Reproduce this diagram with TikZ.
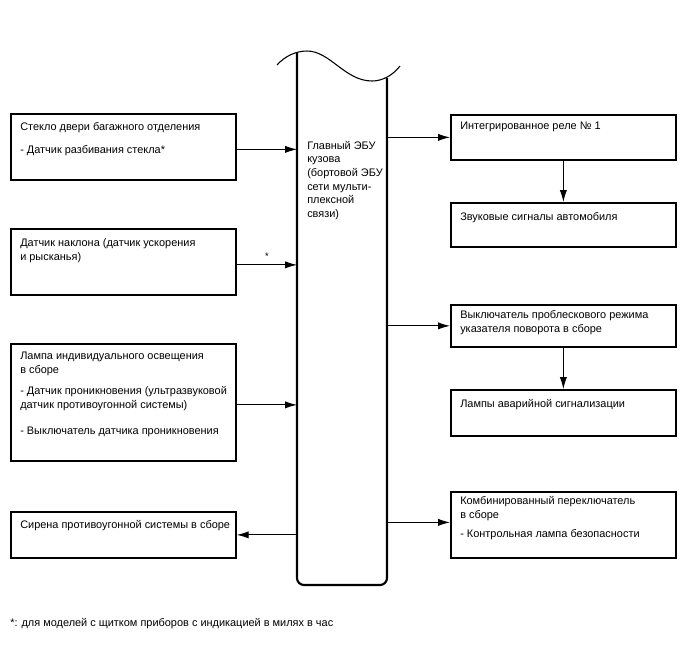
\documentclass[tikz,border=0pt]{standalone}
\usepackage{fontspec}
\setmainfont{Liberation Sans}
\usetikzlibrary{arrows.meta,calc}
\begin{document}
\begin{tikzpicture}[x=0.75pt,y=-0.75pt,
  box/.style={draw,line width=1.3pt,rectangle,inner sep=0pt},
  txt/.style={anchor=north west,inner sep=0pt,align=left,font=\fontsize{8.2}{10.5}\selectfont},
  arr/.style={line width=0.8pt,-{Latex[length=9pt,width=5.5pt]}}]
\useasboundingbox (0,0) rectangle (688,658);
% left boxes
\node[box,minimum width=225*0.75pt,minimum height=66*0.75pt,anchor=north west] (l1) at (10,113) {};
\node[txt] (l1t) at (20,122) {Стекло двери багажного отделения\\[7pt]- Датчик разбивания стекла*};
\node[box,minimum width=225*0.75pt,minimum height=66*0.75pt,anchor=north west] (l2) at (10,228) {};
\node[txt] (l2t) at (20,238) {Датчик наклона (датчик ускорения\\и рысканья)};
\node[box,minimum width=225*0.75pt,minimum height=117*0.75pt,anchor=north west] (l3) at (10,343) {};
\node[txt] (l3t) at (20,352) {Лампа индивидуального освещения\\в сборе\\[5pt]- Датчик проникновения (ультразвуковой\\датчик противоугонной системы)\\[9pt]- Выключатель датчика проникновения};
\node[box,minimum width=225*0.75pt,minimum height=46*0.75pt,anchor=north west] (l4) at (10,511) {};
\node[txt] (l4t) at (20,520) {Сирена противоугонной системы в сборе};
% right boxes
\node[box,minimum width=225*0.75pt,minimum height=45*0.75pt,anchor=north west] (r1) at (450,114) {};
\node[txt] (r1t) at (460,122) {Интегрированное реле № 1};
\node[box,minimum width=225*0.75pt,minimum height=44*0.75pt,anchor=north west] (r2) at (450,202) {};
\node[txt] (r2t) at (460,212) {Звуковые сигналы автомобиля};
\node[box,minimum width=225*0.75pt,minimum height=42*0.75pt,anchor=north west] (r3) at (450,304) {};
\node[txt] (r3t) at (460,310) {Выключатель проблескового режима\\указателя поворота в сборе};
\node[box,minimum width=225*0.75pt,minimum height=46*0.75pt,anchor=north west] (r4) at (450,389) {};
\node[txt] (r4t) at (460,399) {Лампы аварийной сигнализации};
\node[box,minimum width=225*0.75pt,minimum height=66*0.75pt,anchor=north west] (r5) at (450,491) {};
\node[txt] (r5t) at (460,496) {Комбинированный переключатель\\в сборе\\[4pt]- Контрольная лампа безопасности};
% ECU
\node[inner sep=0pt,minimum width=90*0.75pt,minimum height=533*0.75pt,anchor=north west] (ecu) at (297,52) {};
\draw[line width=1.6pt] (297,52) -- (297,578) arc[start angle=180,end angle=270,radius=7*0.75pt] -- (380,585) arc[start angle=270,end angle=360,radius=7*0.75pt] -- (387,78);
\draw[line width=0.8pt] (277,65) .. controls (285,56) and (296,51) .. (307,51) .. controls (330,51) and (345,81) .. (372,81) .. controls (383,81) and (393,75) .. (400,66);
\node[txt,font=\fontsize{8.2}{10.2}\selectfont] (ecut) at (307,141) {Главный ЭБУ\\кузова\\(бортовой ЭБУ\\сети мульти-\\плексной\\связи)};
% connectors
\draw[arr] ([yshift=-2.5*0.75pt]l1.east) -- ([yshift=-2.5*0.75pt]l1.east -| ecu.west);
\draw[arr] ([yshift=-3*0.75pt]l2.east) -- ([yshift=-3*0.75pt]l2.east -| ecu.west) node[midway,above=0pt,font=\fontsize{7}{8}\selectfont] (st) {*};
\draw[arr] ([yshift=-2.5*0.75pt]l3.east) -- ([yshift=-2.5*0.75pt]l3.east -| ecu.west);
\draw[arr] (l4.east -| ecu.west) -- (l4.east);
\draw[arr] (r1.west -| ecu.east) -- (r1.west);
\draw[arr] (r3.west -| ecu.east) -- (r3.west);
\draw[arr] ([yshift=2.5*0.75pt]r5.west -| ecu.east) -- ([yshift=2.5*0.75pt]r5.west);
\draw[arr] (r1.south) -- (r2.north);
\draw[arr] (r3.south) -- (r4.north);
% footnote
\node[txt] (fn) at (10,618) {*: для моделей с щитком приборов с индикацией в милях в час};
\end{tikzpicture}
\end{document}
